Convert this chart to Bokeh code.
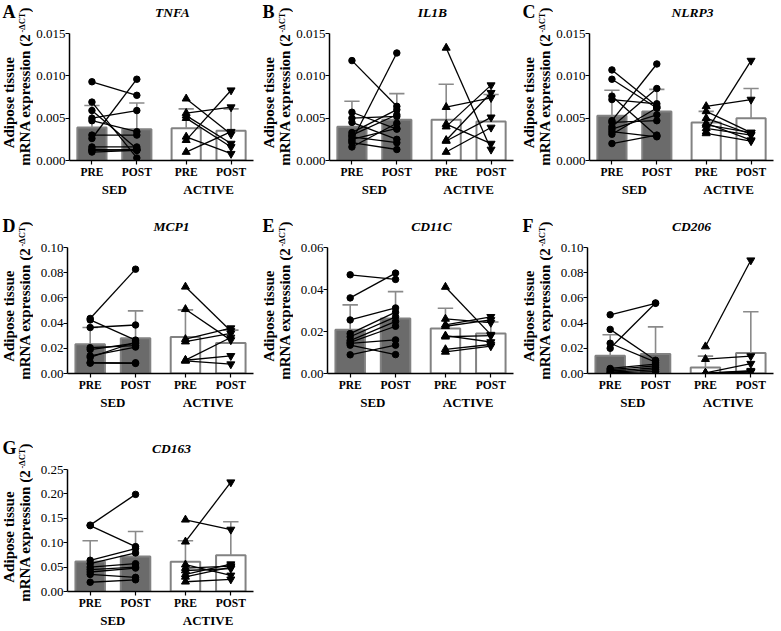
import math
from bokeh.plotting import figure
from bokeh.models import FactorRange, Range1d, FixedTicker, PrintfTickFormatter
from bokeh.core.properties import value
from bokeh.layouts import column, row
from bokeh.embed import file_html
from bokeh.resources import INLINE

GROUPS = ["SED", "ACTIVE"]
TIMES = ["PRE", "POST"]
FACTORS = [(g, t) for g in GROUPS for t in TIMES]

# ---------------- data ----------------
TNFA_SED_PRE = [0.0093, 0.0069, 0.0059, 0.0050, 0.0047, 0.0030, 0.0026, 0.0016, 0.0013, 0.0012, 0.0010]
TNFA_SED_POST = [0.0077, 0.0003, 0.0014, 0.0059, 0.0034, 0.0030, 0.0096, 0.0016, 0.0012, 0.0013, 0.0012]
TNFA_ACT_PRE = [0.0073, 0.0056, 0.0053, 0.0050, 0.0028, 0.0024, 0.0010]
TNFA_ACT_POST = [0.0031, 0.0063, 0.0020, 0.0016, 0.0008, 0.0083, 0.0034]
TNFA_MEAN = [0.0039, 0.0037, 0.0038, 0.0035]
TNFA_SD = [0.0026, 0.0031, 0.0023, 0.0026]

IL1B_SED_PRE = [0.0118, 0.0057, 0.0050, 0.0045, 0.0033, 0.0030, 0.0028, 0.0025, 0.0023, 0.0021, 0.0016]
IL1B_SED_POST = [0.0064, 0.0037, 0.0052, 0.0025, 0.0060, 0.0054, 0.0021, 0.0038, 0.0127, 0.0013, 0.0044]
IL1B_ACT_PRE = [0.0133, 0.0063, 0.0043, 0.0040, 0.0024, 0.0023, 0.0010]
IL1B_ACT_POST = [0.0013, 0.0074, 0.0020, 0.0089, 0.0080, 0.0051, 0.0039]
IL1B_MEAN = [0.0040, 0.0048, 0.0048, 0.0046]
IL1B_SD = [0.0030, 0.0031, 0.0042, 0.0032]

NLRP3_SED_PRE = [0.0107, 0.0096, 0.0076, 0.0072, 0.0047, 0.0045, 0.0040, 0.0037, 0.0034, 0.0031, 0.0020]
NLRP3_SED_POST = [0.0064, 0.0062, 0.0029, 0.0067, 0.0114, 0.0047, 0.0085, 0.0054, 0.0028, 0.0062, 0.0030]
NLRP3_ACT_PRE = [0.0064, 0.0058, 0.0050, 0.0044, 0.0042, 0.0038, 0.0034, 0.0032]
NLRP3_ACT_POST = [0.0072, 0.0033, 0.0031, 0.0024, 0.0033, 0.0030, 0.0118, 0.0023]
NLRP3_MEAN = [0.0053, 0.0058, 0.0045, 0.0050]
NLRP3_SD = [0.0030, 0.0026, 0.0013, 0.0035]

MCP1_SED_PRE = [0.0437, 0.0425, 0.0365, 0.0205, 0.0190, 0.0140, 0.0128, 0.0087, 0.0082]
MCP1_SED_POST = [0.0828, 0.0265, 0.0385, 0.0222, 0.0240, 0.0210, 0.0250, 0.0085, 0.0080]
MCP1_ACT_PRE = [0.0688, 0.0510, 0.0272, 0.0253, 0.0106, 0.0105, 0.0100]
MCP1_ACT_POST = [0.0338, 0.0265, 0.0360, 0.0318, 0.0286, 0.0140, 0.0074]
MCP1_MEAN = [0.0233, 0.0280, 0.0290, 0.0242]
MCP1_SD = [0.0132, 0.0217, 0.0215, 0.0102]

CD11C_SED_PRE = [0.0470, 0.0360, 0.0255, 0.0190, 0.0175, 0.0157, 0.0148, 0.0143, 0.0135, 0.0089]
CD11C_SED_POST = [0.0448, 0.0478, 0.0312, 0.0292, 0.0270, 0.0248, 0.0225, 0.0160, 0.0090, 0.0135]
CD11C_ACT_PRE = [0.0412, 0.0260, 0.0232, 0.0225, 0.0180, 0.0175, 0.0115, 0.0103]
CD11C_ACT_POST = [0.0185, 0.0242, 0.0270, 0.0255, 0.0150, 0.0180, 0.0138, 0.0130]
CD11C_MEAN = [0.0208, 0.0262, 0.0214, 0.0190]
CD11C_SD = [0.0119, 0.0128, 0.0097, 0.0055]

CD206_SED_PRE = [0.0466, 0.0350, 0.0240, 0.0200, 0.0040, 0.0030, 0.0020, 0.0010, 0.0005]
CD206_SED_POST = [0.0557, 0.0105, 0.0090, 0.0560, 0.0075, 0.0060, 0.0045, 0.0030, 0.0015]
CD206_ACT_PRE = [0.0214, 0.0114, 0.0005, 0.0003, 0.0002, 0.0002]
CD206_ACT_POST = [0.0899, 0.0138, 0.0078, 0.0022, 0.0015, 0.0012]
CD206_MEAN = [0.0140, 0.0155, 0.0048, 0.0162]
CD206_SD = [0.0167, 0.0215, 0.0090, 0.0328]

CD163_SED_PRE = [0.136, 0.135, 0.064, 0.057, 0.050, 0.045, 0.040, 0.035, 0.019]
CD163_SED_POST = [0.199, 0.092, 0.088, 0.079, 0.057, 0.050, 0.048, 0.029, 0.024]
CD163_ACT_PRE = [0.102, 0.147, 0.055, 0.048, 0.043, 0.035, 0.030, 0.020]
CD163_ACT_POST = [0.224, 0.127, 0.033, 0.052, 0.047, 0.056, 0.050, 0.025]
CD163_MEAN = [0.0615, 0.0715, 0.0610, 0.0745]
CD163_SD = [0.0425, 0.0515, 0.0430, 0.0685]

TICKS_015 = [0.0, 0.005, 0.010, 0.015]
TICKS_010 = [0.0, 0.02, 0.04, 0.06, 0.08, 0.10]
TICKS_006 = [0.0, 0.02, 0.04, 0.06]
TICKS_025 = [0.0, 0.05, 0.10, 0.15, 0.20, 0.25]

YLABEL_1 = "Adipose tissue"
YLABEL_2 = "mRNA expression (2"
YLABEL_SUP = "-ΔCT"
YLABEL_END = ")"

# ---------------- styling / layout ----------------
SERIF = "Liberation Serif"
SED_FILL = "#6b6b6b"
BAR_LINE = "#828282"
ERR_COLOR = "#8a8a8a"
L_W = 33          # strip holding panel letter + y-axis title
M_LEFT = 34       # room for tick labels
FRAME_W = 186
ROWS = [
    dict(h=205, hdr=26, top=7, fh=127, bottom=45),
    dict(h=223, hdr=35, top=7, fh=126, bottom=55),
    dict(h=202, hdr=34, top=7, fh=124, bottom=37),
]
ROT = math.pi / 2


def blank_fig(w, h):
    f = figure(width=w, height=h, x_range=Range1d(0, w), y_range=Range1d(0, h),
               output_backend="svg", toolbar_location=None, tools="",
               x_axis_type=None, y_axis_type=None, min_border=0)
    f.outline_line_color = None
    f.background_fill_color = "white"
    f.border_fill_color = "white"
    return f


def side_strip(letter, cfg):
    h = cfg["h"]
    ft = cfg["hdr"] + cfg["top"]           # frame top measured from row top
    fh = cfg["fh"]
    f = blank_fig(L_W, h)
    common = dict(text_font=value(SERIF), text_font_style="bold", text_baseline="middle", text_color="black")
    f.text(x=[2], y=[h - (ft - 22)], text=[letter], text_font_size=value("18px"), text_align="left", **common)
    f.text(x=[8.5], y=[h - (ft + 0.545 * fh)], text=[YLABEL_1], angle=ROT,
           text_font_size=value("15px"), text_align="center", **common)
    f.text(x=[24.5], y=[h - ft], text=[YLABEL_2], angle=ROT,
           text_font_size=value("15px"), text_align="right", **common)
    f.text(x=[21.5], y=[h - ft + 1], text=[YLABEL_SUP], angle=ROT,
           text_font_size=value("8.5px"), text_align="left", **common)
    f.text(x=[24.5], y=[h - ft + 21], text=[YLABEL_END], angle=ROT,
           text_font_size=value("15px"), text_align="left", **common)
    return f


def header(gene, cfg, w):
    hh = cfg["hdr"]
    f = blank_fig(w, hh)
    # text centre 21 px above the frame top
    f.text(x=[M_LEFT + FRAME_W / 2], y=[21 - cfg["top"]], text=[gene], text_font=value(SERIF),
           text_font_style="bold italic", text_font_size=value("13.5px"), text_align="center",
           text_baseline="middle", text_color="black")
    return f


def main_plot(ticks, fmt, sed_pre, sed_post, act_pre, act_post, mean, sd, cfg, w):
    p = figure(width=w, height=cfg["h"] - cfg["hdr"],
               x_range=FactorRange(*FACTORS, group_padding=0.1, factor_padding=0.0, range_padding=0.0),
               y_range=Range1d(0, ticks[-1]),
               output_backend="svg", toolbar_location=None, tools="",
               min_border_left=M_LEFT, min_border_right=w - M_LEFT - FRAME_W,
               min_border_top=cfg["top"], min_border_bottom=cfg["bottom"])
    p.xgrid.visible = False
    p.ygrid.visible = False
    p.outline_line_color = None

    p.vbar(x=FACTORS, top=mean, width=0.65,
           fill_color=[SED_FILL, SED_FILL, "white", "white"],
           line_color=BAR_LINE, line_width=2)
    upper = [m + s for m, s in zip(mean, sd)]
    p.segment(x0=FACTORS, y0=mean, x1=FACTORS, y1=upper, line_color=ERR_COLOR, line_width=1.6)
    p.segment(x0=[f + (-0.17,) for f in FACTORS], y0=upper,
              x1=[f + (0.17,) for f in FACTORS], y1=upper,
              line_color=ERR_COLOR, line_width=1.6)
    n = len(sed_pre)
    m = len(act_pre)
    p.segment(x0=[("SED", "PRE")] * n, y0=sed_pre, x1=[("SED", "POST")] * n, y1=sed_post,
              line_color="black", line_width=1.3)
    p.segment(x0=[("ACTIVE", "PRE")] * m, y0=act_pre, x1=[("ACTIVE", "POST")] * m, y1=act_post,
              line_color="black", line_width=1.3)
    p.scatter(x=[("SED", "PRE")] * n + [("SED", "POST")] * n, y=sed_pre + sed_post,
              marker="circle", size=6.5, color="black")
    p.scatter(x=[("ACTIVE", "PRE")] * m, y=act_pre, marker="triangle", size=8, color="black")
    p.scatter(x=[("ACTIVE", "POST")] * m, y=act_post, marker="inverted_triangle", size=8, color="black")

    xa = p.xaxis[0]
    xa.axis_line_color = "black"
    xa.axis_line_width = 1.5
    xa.major_tick_out = 4
    xa.major_tick_in = 0
    xa.major_tick_line_width = 1.2
    xa.minor_tick_line_color = None
    xa.major_label_text_font = SERIF
    xa.major_label_text_font_style = "bold"
    xa.major_label_text_font_size = "11.5px"
    xa.major_label_text_color = "black"
    xa.major_label_standoff = 1
    xa.group_text_font = SERIF
    xa.group_text_font_style = "bold"
    xa.group_text_font_size = "13px"
    xa.group_text_color = "black"
    xa.separator_line_color = None

    ya = p.yaxis[0]
    ya.ticker = FixedTicker(ticks=ticks, minor_ticks=[])
    ya.formatter = PrintfTickFormatter(format=fmt)
    ya.axis_line_color = "black"
    ya.axis_line_width = 1.5
    ya.major_tick_out = 4
    ya.major_tick_in = 0
    ya.major_tick_line_width = 1.2
    ya.minor_tick_line_color = None
    ya.major_label_text_font = SERIF
    ya.major_label_text_font_size = "13px"
    ya.major_label_text_color = "black"
    ya.major_label_standoff = 0
    return p


def panel(letter, gene, ticks, fmt, sp, so, ap, ao, mean, sd, cfg, w):
    mw = w - L_W
    return row(side_strip(letter, cfg),
               column(header(gene, cfg, mw), main_plot(ticks, fmt, sp, so, ap, ao, mean, sd, cfg, mw)))


pA = panel("A", "TNFA", TICKS_015, "%.3f", TNFA_SED_PRE, TNFA_SED_POST, TNFA_ACT_PRE, TNFA_ACT_POST, TNFA_MEAN, TNFA_SD, ROWS[0], 260)
pB = panel("B", "IL1B", TICKS_015, "%.3f", IL1B_SED_PRE, IL1B_SED_POST, IL1B_ACT_PRE, IL1B_ACT_POST, IL1B_MEAN, IL1B_SD, ROWS[0], 260)
pC = panel("C", "NLRP3", TICKS_015, "%.3f", NLRP3_SED_PRE, NLRP3_SED_POST, NLRP3_ACT_PRE, NLRP3_ACT_POST, NLRP3_MEAN, NLRP3_SD, ROWS[0], 260)
pD = panel("D", "MCP1", TICKS_010, "%.2f", MCP1_SED_PRE, MCP1_SED_POST, MCP1_ACT_PRE, MCP1_ACT_POST, MCP1_MEAN, MCP1_SD, ROWS[1], 260)
pE = panel("E", "CD11C", TICKS_006, "%.2f", CD11C_SED_PRE, CD11C_SED_POST, CD11C_ACT_PRE, CD11C_ACT_POST, CD11C_MEAN, CD11C_SD, ROWS[1], 260)
pF = panel("F", "CD206", TICKS_010, "%.2f", CD206_SED_PRE, CD206_SED_POST, CD206_ACT_PRE, CD206_ACT_POST, CD206_MEAN, CD206_SD, ROWS[1], 260)
pG = panel("G", "CD163", TICKS_025, "%.2f", CD163_SED_PRE, CD163_SED_POST, CD163_ACT_PRE, CD163_ACT_POST, CD163_MEAN, CD163_SD, ROWS[2], 260)

layout = column(row(pA, pB, pC), row(pD, pE, pF), row(pG))
open("out.html", "w").write(file_html(layout, INLINE, "Adipose tissue mRNA expression"))
